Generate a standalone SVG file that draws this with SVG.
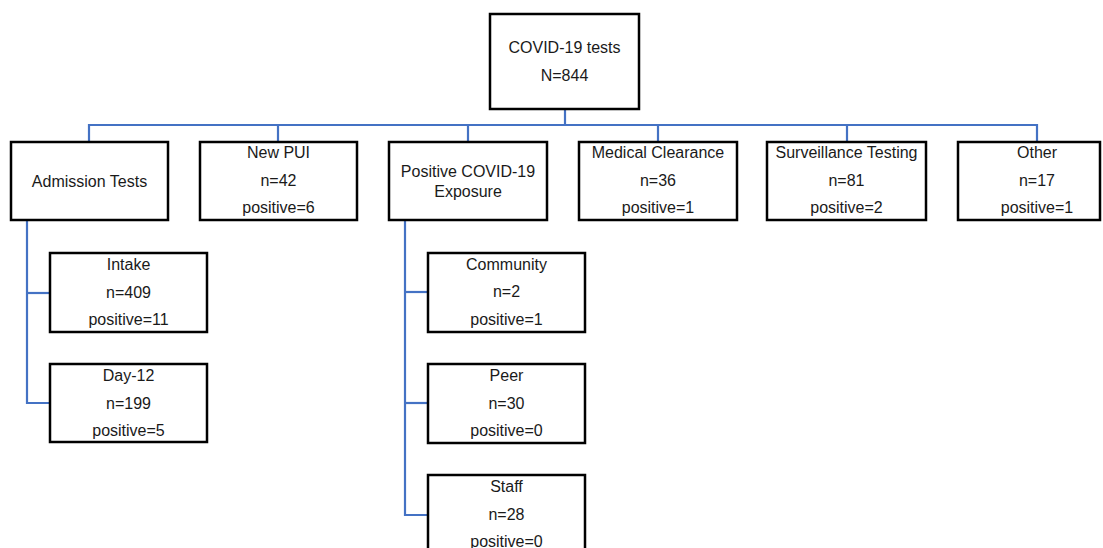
<svg xmlns="http://www.w3.org/2000/svg" width="1103" height="548" viewBox="0 0 1103 548">
<style>
  .box { fill: #ffffff; stroke: #000000; stroke-width: 2.5; }
  .lbl { font-family: "Liberation Sans", Arial, sans-serif; font-size: 16px; fill: #1a1a1a; text-anchor: middle; }
  .conn { fill: none; stroke: #4472C4; stroke-width: 2.2; }
</style>
<rect width="1103" height="548" fill="#ffffff"/>
<g id="connectors">
  <path class="conn" d="M565 109 V125"/>
  <path class="conn" d="M89 142 V125 H1037 V142"/>
  <path class="conn" d="M278 125 V142"/>
  <path class="conn" d="M468 125 V142"/>
  <path class="conn" d="M658 125 V142"/>
  <path class="conn" d="M847 125 V142"/>
  <path class="conn" d="M27 220 V403 H50"/>
  <path class="conn" d="M27 293 H50"/>
  <path class="conn" d="M405 220 V515 H428"/>
  <path class="conn" d="M405 292 H428"/>
  <path class="conn" d="M405 403 H428"/>
</g>
<g id="node-root">
  <rect class="box" x="490" y="14" width="149" height="95"/>
  <text class="lbl" x="564.5" y="53">COVID-19 tests</text>
  <text class="lbl" x="564.5" y="81">N=844</text>
</g>
<g id="node-admission">
  <rect class="box" x="11" y="142" width="157" height="78"/>
  <text class="lbl" x="89.5" y="187">Admission Tests</text>
</g>
<g id="node-newpui">
  <rect class="box" x="200" y="142" width="157" height="78"/>
  <text class="lbl" x="278.5" y="158">New PUI</text>
  <text class="lbl" x="278.5" y="186">n=42</text>
  <text class="lbl" x="278.5" y="213">positive=6</text>
</g>
<g id="node-exposure">
  <rect class="box" x="389" y="142" width="158" height="78"/>
  <text class="lbl" x="468" y="177">Positive COVID-19</text>
  <text class="lbl" x="468" y="197">Exposure</text>
</g>
<g id="node-medical">
  <rect class="box" x="579" y="142" width="158" height="78"/>
  <text class="lbl" x="658" y="158">Medical Clearance</text>
  <text class="lbl" x="658" y="186">n=36</text>
  <text class="lbl" x="658" y="213">positive=1</text>
</g>
<g id="node-surveillance">
  <rect class="box" x="767" y="142" width="159" height="78"/>
  <text class="lbl" x="846.5" y="158">Surveillance Testing</text>
  <text class="lbl" x="846.5" y="186">n=81</text>
  <text class="lbl" x="846.5" y="213">positive=2</text>
</g>
<g id="node-other">
  <rect class="box" x="958" y="142" width="142" height="78"/>
  <text class="lbl" x="1037" y="158">Other</text>
  <text class="lbl" x="1037" y="186">n=17</text>
  <text class="lbl" x="1037" y="213">positive=1</text>
</g>
<g id="node-intake">
  <rect class="box" x="50" y="253" width="157" height="79"/>
  <text class="lbl" x="128.5" y="270">Intake</text>
  <text class="lbl" x="128.5" y="298">n=409</text>
  <text class="lbl" x="128.5" y="325">positive=11</text>
</g>
<g id="node-day12">
  <rect class="box" x="50" y="364" width="157" height="78"/>
  <text class="lbl" x="128.5" y="381">Day-12</text>
  <text class="lbl" x="128.5" y="409">n=199</text>
  <text class="lbl" x="128.5" y="436">positive=5</text>
</g>
<g id="node-community">
  <rect class="box" x="428" y="253" width="157" height="79"/>
  <text class="lbl" x="506.5" y="270">Community</text>
  <text class="lbl" x="506.5" y="297">n=2</text>
  <text class="lbl" x="506.5" y="325">positive=1</text>
</g>
<g id="node-peer">
  <rect class="box" x="428" y="364" width="157" height="79"/>
  <text class="lbl" x="506.5" y="381">Peer</text>
  <text class="lbl" x="506.5" y="409">n=30</text>
  <text class="lbl" x="506.5" y="436">positive=0</text>
</g>
<g id="node-staff">
  <rect class="box" x="428" y="475" width="157" height="79"/>
  <text class="lbl" x="506.5" y="492">Staff</text>
  <text class="lbl" x="506.5" y="520">n=28</text>
  <text class="lbl" x="506.5" y="547">positive=0</text>
</g>
</svg>
